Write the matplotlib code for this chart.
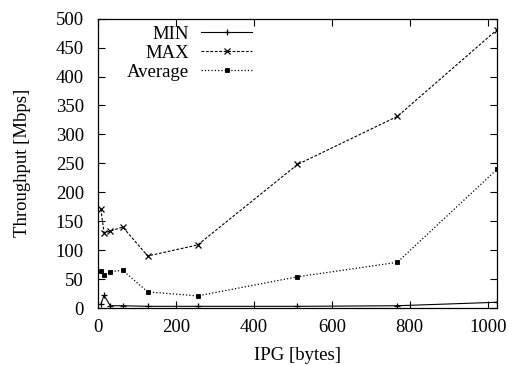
import matplotlib
matplotlib.use('Agg')
import matplotlib.pyplot as plt

plt.rcParams['font.family'] = ['Liberation Serif', 'DejaVu Serif']
plt.rcParams['font.size'] = 13.5

ipg = [8, 16, 32, 64, 128, 256, 512, 768, 1024]
tp_min = [7, 22, 4, 4, 3, 3, 3, 4, 10]
tp_max = [171, 130, 133, 140, 90, 109, 248, 331, 481]
tp_avg = [64, 57, 63, 65, 28, 21, 54, 79, 240]

fig = plt.figure(figsize=(5.12, 3.65), dpi=100)
ax = fig.add_axes([0.191, 0.156, 0.780, 0.793])

ax.plot(ipg, tp_min, 'k-', lw=0.8, marker='+', ms=5, mew=0.9, label='MIN')
ax.plot(ipg, tp_max, 'k--', lw=0.8, dashes=(2.5, 1.5), marker='x', ms=4, mew=0.9, label='MAX')
ax.plot(ipg, tp_avg, 'k:', lw=0.9, marker='s', ms=3, mew=0.6, label='Average')

ax.set_xlim(0, 1024)
ax.set_ylim(0, 500)
ax.set_xticks(range(0, 1001, 200))
ax.set_yticks(range(0, 501, 50))
ax.tick_params(direction='in', top=True, right=True, length=5, width=0.8)
ax.tick_params(axis='x', pad=8)
ax.tick_params(axis='y', pad=10)
for s in ax.spines.values():
    s.set_linewidth(0.9)

ax.set_xlabel('IPG [bytes]', labelpad=8)
ax.set_ylabel('Throughput [Mbps]', labelpad=18)

ax.legend(loc='upper right', bbox_to_anchor=(0.386, 0.975), frameon=False,
          markerfirst=False, handlelength=2.7, handletextpad=0.65,
          labelspacing=0.09, borderpad=0.0, borderaxespad=0)

fig.savefig('out.png', dpi=100)
